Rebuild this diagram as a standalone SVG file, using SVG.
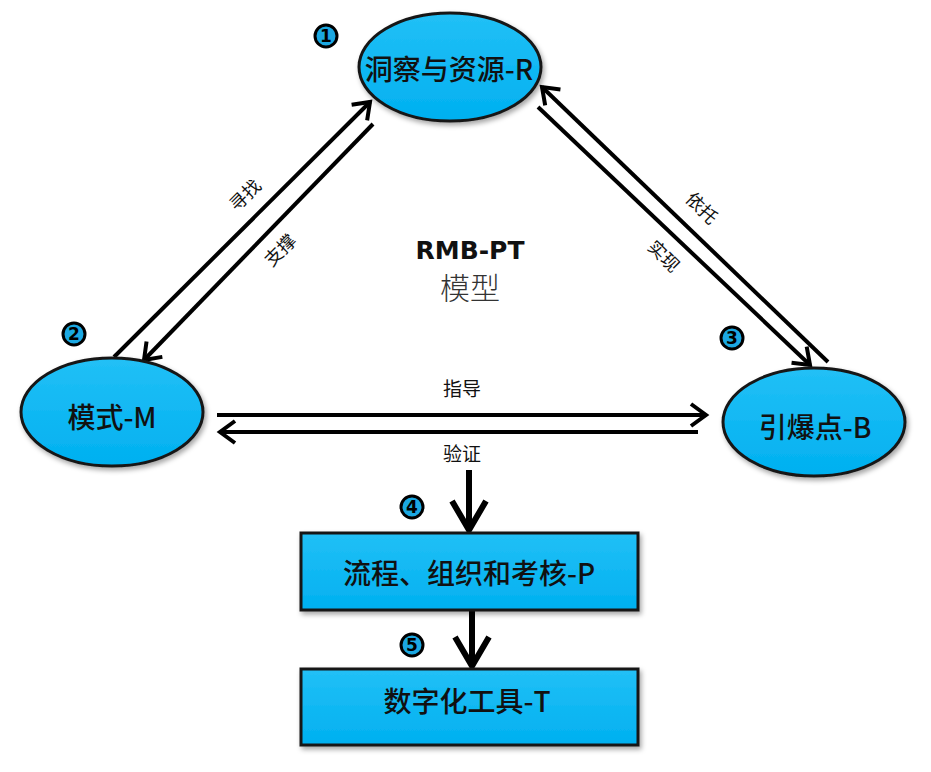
<svg xmlns="http://www.w3.org/2000/svg" width="931" height="772" viewBox="0 0 931 772">
  <style>
    .node { stroke: #161616; stroke-width: 3; }
    .ntext { font-family: "Noto Sans CJK SC", "Noto Sans", sans-serif; font-size: 28px; font-weight: 500; fill: #111; text-anchor: middle; dominant-baseline: central; }
    .lbl { font-family: "Noto Sans CJK SC", "Noto Sans", sans-serif; font-size: 18px; fill: #111; text-anchor: middle; dominant-baseline: central; }
    .num { fill: #1BA8E2; stroke: #000; stroke-width: 3; }
    .numt { font-family: "DejaVu Sans", sans-serif; font-weight: bold; font-size: 17px; fill: #000; text-anchor: middle; dominant-baseline: central; }
    .ln { stroke: #000; stroke-width: 4; fill: none; }
    .thick { stroke: #000; stroke-width: 6; fill: none; }
  </style>
  <defs>
    <linearGradient id="blue" x1="0" y1="0" x2="0" y2="1">
      <stop offset="0" stop-color="#22C0F6"/>
      <stop offset="1" stop-color="#00B0F0"/>
    </linearGradient>
    <filter id="sh" x="-20%" y="-20%" width="140%" height="150%">
      <feDropShadow dx="2" dy="3" stdDeviation="2.5" flood-color="#000" flood-opacity="0.35"/>
    </filter>
    <marker id="ah" markerUnits="userSpaceOnUse" viewBox="-20 -15 24 30" refX="0" refY="0" markerWidth="24" markerHeight="30" orient="auto">
      <path d="M-15,-11 L0,0 L-15,11" fill="none" stroke="#000" stroke-width="4"/>
    </marker>
    <marker id="ahb" markerUnits="userSpaceOnUse" viewBox="-34 -22 40 44" refX="0" refY="0" markerWidth="40" markerHeight="44" orient="auto">
      <path d="M-29,-17 L0,0 L-29,17" fill="none" stroke="#000" stroke-width="6"/>
    </marker>
  </defs>

  <rect width="931" height="772" fill="#fff"/>

  <g id="connectors">
    <!-- M <-> R -->
    <line class="ln" x1="114" y1="357" x2="370" y2="102" marker-end="url(#ah)"/>
    <line class="ln" x1="373" y1="124" x2="144" y2="360" marker-end="url(#ah)"/>
    <text class="lbl" transform="translate(244,194) rotate(-45)">寻找</text>
    <text class="lbl" transform="translate(279,249) rotate(-45)">支撑</text>
    <!-- B <-> R -->
    <line class="ln" x1="828" y1="362" x2="542" y2="87" marker-end="url(#ah)"/>
    <line class="ln" x1="538" y1="107" x2="810" y2="365" marker-end="url(#ah)"/>
    <text class="lbl" transform="translate(703,207) rotate(45)">依托</text>
    <text class="lbl" transform="translate(665,255) rotate(45)">实现</text>
    <!-- M <-> B -->
    <line class="ln" x1="217" y1="415" x2="706" y2="415" marker-end="url(#ah)"/>
    <line class="ln" x1="698" y1="432" x2="220" y2="432" marker-end="url(#ah)"/>
    <text class="lbl" x="462" y="387" style="font-size:19px">指导</text>
    <text class="lbl" x="462" y="452" style="font-size:19px">验证</text>
    <!-- vertical -->
    <line class="thick" x1="469" y1="470" x2="469" y2="530" marker-end="url(#ahb)"/>
    <line class="thick" x1="472" y1="610" x2="472" y2="666" marker-end="url(#ahb)"/>
  </g>

  <g id="title">
    <text x="470" y="259" font-family="DejaVu Sans, Verdana, sans-serif" font-weight="bold" font-size="25" text-anchor="middle" fill="#111">RMB-PT</text>
    <text x="470" y="299" font-family="Noto Sans CJK SC, sans-serif" font-size="30" text-anchor="middle" fill="#333" font-weight="300">模型</text>
  </g>

  <g id="node-R">
    <ellipse class="node" cx="450" cy="67" rx="91" ry="54" fill="url(#blue)" filter="url(#sh)"/>
    <text class="ntext" x="449" y="68">洞察与资源-R</text>
  </g>
  <g id="node-M">
    <ellipse class="node" cx="112" cy="412" rx="91" ry="54" fill="url(#blue)" filter="url(#sh)"/>
    <text class="ntext" x="112" y="416">模式-M</text>
  </g>
  <g id="node-B">
    <ellipse class="node" cx="814" cy="422" rx="91" ry="54" fill="url(#blue)" filter="url(#sh)"/>
    <text class="ntext" x="815" y="426">引爆点-B</text>
  </g>
  <g id="node-P">
    <rect class="node" x="301" y="533" width="337" height="77" fill="url(#blue)" filter="url(#sh)"/>
    <text class="ntext" x="469" y="572">流程、组织和考核-P</text>
  </g>
  <g id="node-T">
    <rect class="node" x="301" y="669" width="337" height="76" fill="url(#blue)" filter="url(#sh)"/>
    <text class="ntext" x="467" y="700">数字化工具-T</text>
  </g>

  <g id="badge-1"><circle class="num" cx="326" cy="36" r="11"/><text class="numt" x="326" y="36">1</text></g>
  <g id="badge-2"><circle class="num" cx="74" cy="334" r="11"/><text class="numt" x="74" y="334">2</text></g>
  <g id="badge-3"><circle class="num" cx="732" cy="338" r="11"/><text class="numt" x="732" y="338">3</text></g>
  <g id="badge-4"><circle class="num" cx="412" cy="507" r="11"/><text class="numt" x="412" y="507">4</text></g>
  <g id="badge-5"><circle class="num" cx="412" cy="645" r="11"/><text class="numt" x="412" y="645">5</text></g>
</svg>
